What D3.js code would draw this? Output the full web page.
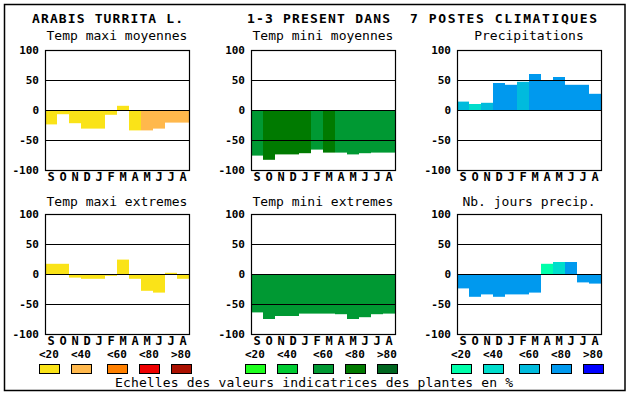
<!DOCTYPE html>
<html>
<head>
<meta charset="utf-8">
<script src="https://cdn.jsdelivr.net/npm/d3@7"></script>
<style>
  body { margin: 0; background: #fff; }
  svg { display: block; }
  text { font-family: "DejaVu Sans Mono", monospace; fill: #000; }
</style>
</head>
<body>
<div id="graph"></div>
<script>
const months = ['S', 'O', 'N', 'D', 'J', 'F', 'M', 'A', 'M', 'J', 'J', 'A'];
const yTicks = [100, 50, 0, -50, -100];
const gridValues = [50, 0, -50];

// values per month, and the class (0..4) that picks the colour
const tmaxMoy = [-24, -7, -22, -31, -31, -8, 7, -34, -34, -31, -21, -21];
const tmaxMoyCls = [0, 0, 0, 0, 0, 0, 0, 0, 1, 1, 1, 1];
const tminMoy = [-76, -83, -74, -74, -72, -66, -71, -71, -74, -72, -71, -71];
const tminMoyCls = [2, 3, 3, 3, 3, 2, 3, 2, 2, 2, 2, 2];
const precip = [14, 10, 12, 45, 42, 47, 60, 49, 55, 42, 42, 27];
const precipCls = [2, 1, 2, 3, 3, 2, 3, 3, 3, 3, 3, 3];
const tmaxExt = [17, 17, -6, -8, -8, -3, 24, -8, -28, -31, 2, -8];
const tmaxExtCls = [0, 0, 0, 0, 0, 0, 0, 0, 0, 0, 0, 0];
const tminExt = [-64, -75, -70, -70, -66, -66, -66, -67, -75, -72, -67, -66];
const tminExtCls = [2, 2, 2, 2, 2, 2, 2, 2, 2, 2, 2, 2];
const joursPrecip = [-24, -38, -34, -38, -34, -34, -31, 17, 20, 20, -14, -16];
const joursPrecipCls = [3, 3, 3, 3, 3, 3, 3, 0, 1, 3, 3, 3];

const legendLabels = ['<20', '<40', '<60', '<80', '>80'];
const tempMaxColours = ['#fae318', '#ffb84c', '#ff8000', '#ee0000', '#aa1000'];
const tempMinColours = ['#1eff1e', '#00cc33', '#009933', '#007a00', '#006620'];
const precipColours = ['#00ffaa', '#00ddcc', '#00bbdd', '#0099ee', '#0000ff'];

const panels = [
  { title: 'Temp maxi moyennes', values: tmaxMoy, cls: tmaxMoyCls, colours: tempMaxColours, col: 0, row: 0 },
  { title: 'Temp mini moyennes', values: tminMoy, cls: tminMoyCls, colours: tempMinColours, col: 1, row: 0 },
  { title: 'Precipitations', values: precip, cls: precipCls, colours: precipColours, col: 2, row: 0 },
  { title: 'Temp maxi extremes', values: tmaxExt, cls: tmaxExtCls, colours: tempMaxColours, col: 0, row: 1 },
  { title: 'Temp mini extremes', values: tminExt, cls: tminExtCls, colours: tempMinColours, col: 1, row: 1 },
  { title: 'Nb. jours precip.', values: joursPrecip, cls: joursPrecipCls, colours: precipColours, col: 2, row: 1 }
];

const width = 630, height = 394;
const colLeft = [45, 251, 457];
const rowTop = [50, 214];
const subtitleY = [40, 206];
const plotW = 144, plotH = 120;

const svg = d3.select('#graph')
  .append('svg')
  .attr('width', width)
  .attr('height', height);

// outer frame
svg.append('rect')
  .attr('x', 4.5).attr('y', 4.5)
  .attr('width', 620.5).attr('height', 386)
  .attr('fill', 'none').attr('stroke', '#000').attr('stroke-width', 1.5);

// title
const titleParts = [
  { text: 'ARABIS TURRITA L.', x: 32, len: 151 },
  { text: '1-3 PRESENT DANS', x: 247, len: 143 },
  { text: '7 POSTES CLIMATIQUES', x: 410, len: 187 }
];
svg.selectAll('text.title')
  .data(titleParts)
  .enter()
  .append('text')
  .attr('class', 'title')
  .attr('x', d => d.x)
  .attr('y', 23)
  .attr('font-size', 13)
  .attr('font-weight', 'bold')
  .attr('textLength', d => d.len)
  .attr('lengthAdjust', 'spacing')
  .text(d => d.text);

panels.forEach(p => {
  const left = colLeft[p.col];
  const top = rowTop[p.row];

  const x = d3.scaleBand().domain(d3.range(months.length)).range([left, left + plotW]).padding(0);
  const y = d3.scaleLinear().domain([-100, 100]).range([top + plotH, top]);

  const g = svg.append('g');

  g.append('text')
    .attr('x', left + plotW / 2)
    .attr('y', subtitleY[p.row])
    .attr('text-anchor', 'middle')
    .attr('font-size', 13)
    .text(p.title);

  g.selectAll('rect.bar')
    .data(p.values)
    .enter()
    .append('rect')
    .attr('class', 'bar')
    .attr('x', (d, i) => x(i))
    .attr('width', x.bandwidth())
    .attr('y', d => y(Math.max(0, d)))
    .attr('height', d => Math.abs(y(d) - y(0)))
    .attr('fill', (d, i) => p.colours[p.cls[i]]);

  g.selectAll('line.grid')
    .data(gridValues)
    .enter()
    .append('line')
    .attr('x1', left).attr('x2', left + plotW)
    .attr('y1', d => Math.round(y(d)) + 0.5)
    .attr('y2', d => Math.round(y(d)) + 0.5)
    .attr('stroke', '#000')
    .attr('stroke-width', 1.2);

  g.append('rect')
    .attr('x', left + 0.5).attr('y', top + 0.5)
    .attr('width', plotW).attr('height', plotH)
    .attr('fill', 'none').attr('stroke', '#000').attr('stroke-width', 1.2);

  g.selectAll('text.ytick')
    .data(yTicks)
    .enter()
    .append('text')
    .attr('x', left - 6)
    .attr('y', d => y(d))
    .attr('dy', '0.36em')
    .attr('text-anchor', 'end')
    .attr('font-size', 11)
    .attr('font-weight', 'bold')
    .text(d => d);

  g.selectAll('text.month')
    .data(months)
    .enter()
    .append('text')
    .attr('x', (d, i) => x(i) + x.bandwidth() / 2)
    .attr('y', top + plotH + 7)
    .attr('dy', '0.36em')
    .attr('text-anchor', 'middle')
    .attr('font-size', 12)
    .attr('font-weight', 'bold')
    .text(d => d);
});

// legend
const legendGroups = [
  { colours: tempMaxColours, x0: 39 },
  { colours: tempMinColours, x0: 245 },
  { colours: precipColours, x0: 451 }
];
const boxOffsets = [0, 32, 68, 100, 132];

legendGroups.forEach(lg => {
  const g = svg.append('g');
  g.selectAll('text')
    .data(legendLabels)
    .enter()
    .append('text')
    .attr('x', (d, i) => lg.x0 + boxOffsets[i])
    .attr('y', 354)
    .attr('dy', '0.36em')
    .attr('font-size', 11)
    .attr('font-weight', 'bold')
    .text(d => d);
  g.selectAll('rect')
    .data(lg.colours)
    .enter()
    .append('rect')
    .attr('x', (d, i) => lg.x0 + boxOffsets[i] + 0.5)
    .attr('y', 364.5)
    .attr('width', 20)
    .attr('height', 9)
    .attr('fill', d => d)
    .attr('stroke', '#000')
    .attr('stroke-width', 1);
});

svg.append('text')
  .attr('x', 115)
  .attr('y', 387)
  .attr('font-size', 13)
  .attr('textLength', 398)
  .attr('lengthAdjust', 'spacing')
  .text('Echelles des valeurs indicatrices des plantes en %');
</script>
</body>
</html>
